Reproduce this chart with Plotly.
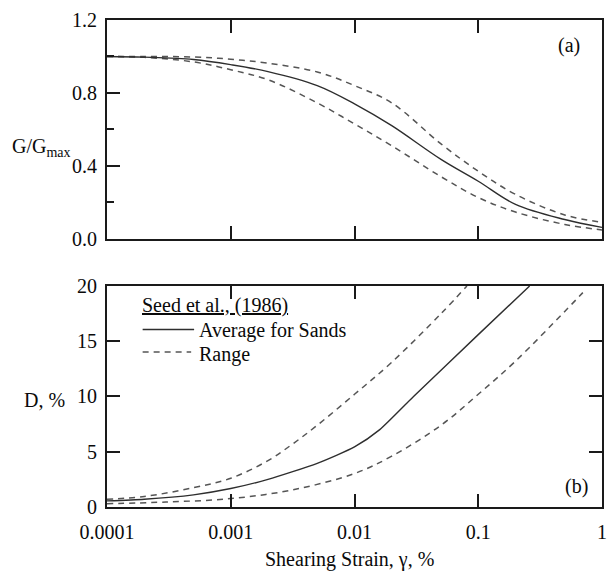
import plotly.graph_objects as go

# ---------------- data ----------------
# (a) modulus reduction, G/Gmax vs shearing strain (%)
gamma_G = [1e-4, 2e-4, 5e-4, 1e-3, 2e-3, 5e-3, 1e-2, 2e-2, 5e-2, 0.1, 0.2, 0.5, 1.0]
GG_avg = [1.0, 0.996, 0.983, 0.955, 0.917, 0.84, 0.74, 0.62, 0.435, 0.315, 0.188, 0.105, 0.062]
GG_upper = [1.0, 1.0, 0.997, 0.985, 0.963, 0.915, 0.84, 0.745, 0.52, 0.37, 0.243, 0.13, 0.09]
GG_lower = [1.0, 0.995, 0.97, 0.927, 0.872, 0.745, 0.63, 0.51, 0.34, 0.226, 0.146, 0.078, 0.048]

# (b) damping ratio D (%) vs shearing strain (%)
gamma_D_avg = [1e-4, 2e-4, 5e-4, 1e-3, 2e-3, 5e-3, 1e-2, 1.6e-2, 3e-2, 0.1, 0.26]
D_avg = [0.55, 0.7, 1.1, 1.67, 2.5, 3.95, 5.44, 7.0, 10.0, 15.6, 20.0]
gamma_D_upper = [1e-4, 2e-4, 5e-4, 1e-3, 2e-3, 3.16e-3, 5e-3, 1e-2, 2e-2, 5e-2, 0.081]
D_upper = [0.7, 0.95, 1.75, 2.6, 4.2, 5.7, 7.4, 10.2, 13.1, 17.5, 20.0]
gamma_D_lower = [1e-4, 3e-4, 1e-3, 3.16e-3, 1e-2, 2e-2, 5e-2, 0.1, 0.2, 0.5, 0.7]
D_lower = [0.3, 0.45, 0.76, 1.55, 3.03, 4.6, 7.4, 10.2, 13.2, 17.7, 19.4]

x_tickvals = [1e-4, 1e-3, 1e-2, 1e-1, 1]
x_ticktext = ["0.0001", "0.001", "0.01", "0.1", "1"]
G_tickvals = [0.0, 0.4, 0.8, 1.2]
G_ticktext = ["0.0", "0.4", "0.8", "1.2"]
D_tickvals = [0, 5, 10, 15, 20]

# ---------------- style ----------------
FONT = "Liberation Serif"
FS = 20
TXT = "#0a0a0a"
AX = "#1a1a1a"
SOLID_C = "#2e2e2e"
DASH_C = "#555555"
DASH = "6px,5px"

fig = go.Figure()

# panel (a)
fig.add_trace(go.Scatter(x=gamma_G, y=GG_upper, mode="lines", xaxis="x", yaxis="y",
                         line=dict(color=DASH_C, width=1.5, dash=DASH, shape="spline"), showlegend=False))
fig.add_trace(go.Scatter(x=gamma_G, y=GG_lower, mode="lines", xaxis="x", yaxis="y",
                         line=dict(color=DASH_C, width=1.5, dash=DASH, shape="spline"), showlegend=False))
fig.add_trace(go.Scatter(x=gamma_G, y=GG_avg, mode="lines", xaxis="x", yaxis="y",
                         line=dict(color=SOLID_C, width=1.4, shape="spline"), showlegend=False))

# panel (b)
fig.add_trace(go.Scatter(x=gamma_D_upper, y=D_upper, mode="lines", xaxis="x2", yaxis="y2",
                         line=dict(color=DASH_C, width=1.5, dash=DASH, shape="spline"), showlegend=False))
fig.add_trace(go.Scatter(x=gamma_D_lower, y=D_lower, mode="lines", xaxis="x2", yaxis="y2",
                         line=dict(color=DASH_C, width=1.5, dash=DASH, shape="spline"), showlegend=False))
fig.add_trace(go.Scatter(x=gamma_D_avg, y=D_avg, mode="lines", xaxis="x2", yaxis="y2",
                         line=dict(color=SOLID_C, width=1.4, shape="spline", smoothing=0.6),
                         showlegend=False))

top_dom = [0.551, 1.0]
bot_dom = [0.0, 0.4538]

common_x = dict(type="log", range=[-4, 0], showline=True, linecolor=AX, linewidth=1.8,
                mirror="ticks", ticks="inside", ticklen=13, tickwidth=1.6, tickcolor=AX,
                tickvals=x_tickvals, ticktext=x_ticktext, showgrid=False, zeroline=False,
                ticklabeloverflow="allow",
                tickfont=dict(family=FONT, size=FS, color=TXT))

fig.update_layout(
    width=608, height=572,
    margin=dict(l=107, r=1, t=20, b=65),
    paper_bgcolor="white", plot_bgcolor="white",
    font=dict(family=FONT, size=FS, color=TXT),
    xaxis=dict(common_x, anchor="y", domain=[0, 1], showticklabels=False),
    yaxis=dict(domain=top_dom, range=[0, 1.2], anchor="x", showline=True, linecolor=AX,
               linewidth=1.8, mirror=True, ticks="inside", ticklen=13, tickwidth=1.6,
               tickcolor=AX, tickvals=G_tickvals, ticktext=G_ticktext, showgrid=False,
               zeroline=False, ticklabelstandoff=4,
               minor=dict(ticks="inside", ticklen=7, tickwidth=1.6, tickcolor=AX, dtick=0.2,
                          showgrid=False),
               tickfont=dict(family=FONT, size=FS, color=TXT)),
    yaxis3=dict(domain=top_dom, range=[0, 1.2], overlaying="y", side="right", anchor="x",
                showline=False, ticks="inside", ticklen=10, tickwidth=1.6, tickcolor=AX,
                dtick=0.2, tick0=0, showticklabels=False, showgrid=False, zeroline=False),
    xaxis2=dict(common_x, anchor="y2", domain=[0, 1], showticklabels=True, ticklabelstandoff=6),
    yaxis2=dict(domain=bot_dom, range=[0, 20], anchor="x2", showline=True, linecolor=AX,
                linewidth=1.8, mirror="ticks", ticks="inside", ticklen=13, tickwidth=1.6,
                tickcolor=AX, tickvals=D_tickvals, showgrid=False, zeroline=False,
                ticklabelstandoff=4, tickfont=dict(family=FONT, size=FS, color=TXT)),
    showlegend=False,
)

def px_x(px):
    return (px - 107) / 500.0

def px_y(py):
    return (507 - py) / 487.0

ann = [
    dict(text="G/G<sub>max</sub>", x=px_x(9), y=px_y(147), xanchor="left", yanchor="middle"),
    dict(text="D, %", x=px_x(21), y=px_y(400), xanchor="left", yanchor="middle"),
    dict(text="(a)", x=px_x(574), y=px_y(45), xanchor="center", yanchor="middle"),
    dict(text="(b)", x=px_x(581), y=px_y(486), xanchor="center", yanchor="middle"),
    dict(text="<u>Seed et al., (1986)</u>", x=px_x(140), y=px_y(305), xanchor="left", yanchor="middle"),
    dict(text="Average for Sands", x=px_x(198), y=px_y(330), xanchor="left", yanchor="middle"),
    dict(text="Range", x=px_x(198), y=px_y(354), xanchor="left", yanchor="middle"),
    dict(text="Shearing Strain, γ, %", x=px_x(352), y=px_y(559), xanchor="center", yanchor="middle"),
]
for a in ann:
    a.update(xref="paper", yref="paper", showarrow=False,
             font=dict(family=FONT, size=FS, color=TXT))
fig.update_layout(annotations=ann)

# legend key samples
fig.add_shape(type="line", xref="paper", yref="paper", x0=px_x(143), x1=px_x(195),
              y0=px_y(329.5), y1=px_y(329.5), line=dict(color=SOLID_C, width=1.4))
fig.add_shape(type="line", xref="paper", yref="paper", x0=px_x(143), x1=px_x(192),
              y0=px_y(352), y1=px_y(352), line=dict(color=DASH_C, width=1.5, dash=DASH))

fig.write_html("out.html")
